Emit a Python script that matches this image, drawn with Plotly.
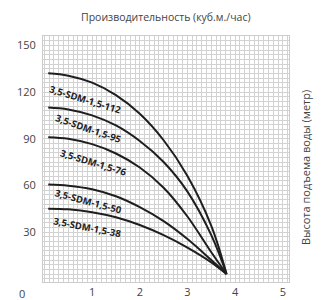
import plotly.graph_objects as go

# Flow (m3/h) sample points
q = [0.08, 0.5, 1.0, 1.5, 2.0, 2.5, 3.0, 3.5, 3.82]
# Head (m) per pump model
h_112 = [132, 130.5, 126, 118, 106, 89, 66, 34, 3]
h_95 = [110, 108.8, 105, 98.5, 88.5, 75, 56, 28, 3]
h_76 = [91, 90, 86.5, 80.5, 71.5, 58.5, 40, 17, 3]
h_50 = [60.5, 59.8, 57.5, 53, 46, 37, 25.5, 12, 3]
h_38 = [45, 44.6, 42.8, 39.5, 34.5, 28, 20, 10.5, 3]

series = [
    ("3,5-SDM-1,5-112", h_112),
    ("3,5-SDM-1,5-95", h_95),
    ("3,5-SDM-1,5-76", h_76),
    ("3,5-SDM-1,5-50", h_50),
    ("3,5-SDM-1,5-38", h_38),
]

# label positions (data) and angles
label_q = [0.85, 0.91, 1.02, 0.92, 0.91]
label_h = [114.9, 96.4, 74.7, 49.8, 33.2]
label_ang = [17, 19, 17, 15, 11]

x_ticks = [1, 2, 3, 4, 5]
y_ticks = [30, 60, 90, 120, 150]

fig = go.Figure()
for name, h in series:
    fig.add_trace(go.Scatter(x=q, y=h, mode="lines", name=name,
                             line=dict(color="#1e1e1e", width=2, shape="spline", smoothing=1.0),
                             showlegend=False, hoverinfo="skip"))

for (name, _), lq, lh, ang in zip(series, label_q, label_h, label_ang):
    fig.add_annotation(x=lq, y=lh, text="<b>" + name + "</b>", showarrow=False,
                       textangle=ang, font=dict(family="Open Sans", size=9.5, color="#222222"))

grid_c = "#d2d2d2"
fig.update_xaxes(range=[-0.03, 5.13], tickvals=x_ticks, showgrid=True, gridcolor=grid_c, gridwidth=1,
                 minor=dict(dtick=0.1, showgrid=True, gridcolor=grid_c, gridwidth=1),
                 zeroline=False, showline=True, linecolor="#cccccc", mirror=True, automargin=False,
                 ticks="", tickfont=dict(family="Open Sans", size=11, color="#444444"))
fig.update_yaxes(range=[-2.1, 156], tickvals=y_ticks, showgrid=True, gridcolor=grid_c, gridwidth=1,
                 minor=dict(dtick=3, showgrid=True, gridcolor=grid_c, gridwidth=1),
                 zeroline=False, showline=True, linecolor="#cccccc", mirror=True, automargin=False,
                 ticks="", ticklabelstandoff=4,
                 tickfont=dict(family="Open Sans", size=11, color="#444444"))

fig.add_annotation(xref="paper", yref="paper", x=-0.085, y=-0.045, text="0", showarrow=False,
                   xanchor="center", yanchor="middle",
                   font=dict(family="Open Sans", size=11, color="#444444"))
fig.add_annotation(xref="paper", yref="paper", x=0.498, y=1.077, text="Производительность (куб.м./час)",
                   showarrow=False, xanchor="center", yanchor="middle",
                   font=dict(family="Open Sans", size=10.5, color="#444444"))
fig.add_annotation(xref="paper", yref="paper", x=1.065, y=0.467, text="Высота подъема воды (метр)",
                   showarrow=False, textangle=-90, xanchor="center", yanchor="middle",
                   font=dict(family="Open Sans", size=11, color="#444444"))

fig.update_layout(width=322, height=300, margin=dict(l=43, r=33, t=36, b=18, autoexpand=False),
                  plot_bgcolor="white", paper_bgcolor="white")
fig.write_html("out.html", config={"displayModeBar": False},
               post_script="document.body.style.margin='0';document.body.style.overflow='hidden';")
